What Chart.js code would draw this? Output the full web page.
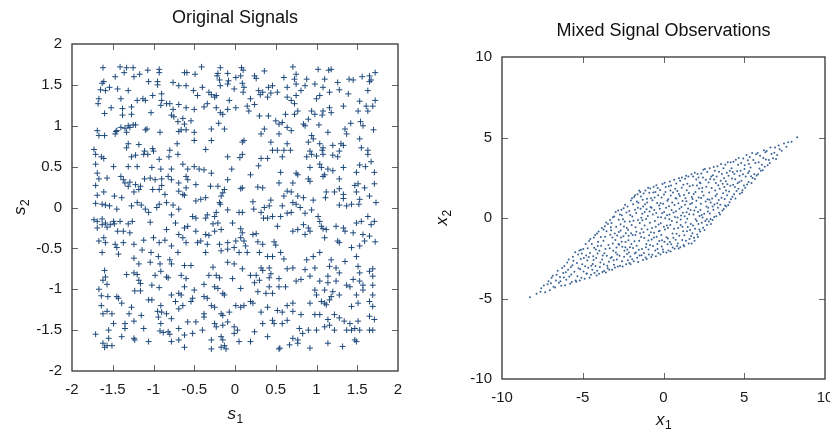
<!DOCTYPE html>
<html>
<head>
<meta charset="utf-8">
<script src="https://cdn.jsdelivr.net/npm/chart.js@4.4.0/dist/chart.umd.min.js"></script>
<style>
  body { margin: 0; background: #fff; width: 830px; height: 429px; overflow: hidden; }
  .pane { position: absolute; top: 0; width: 415px; height: 429px; }
</style>
</head>
<body>
<div class="pane" style="left:0"><canvas id="origChart" width="415" height="429"></canvas></div>
<div class="pane" style="left:415px"><canvas id="mixChart" width="415" height="429"></canvas></div>
<script>
// ---- data ----
var origTitle = 'Original Signals';
var mixTitle = 'Mixed Signal Observations';
var sTicks = [-2, -1.5, -1, -0.5, 0, 0.5, 1, 1.5, 2];
var xTicks = [-10, -5, 0, 5, 10];

// original signals (s1, s2)
var origPts = [
  [-1.62,1.71],[-1.41,1.72],[-1.33,1.71],[-1.25,1.71],[-1.36,1.65],[-1.07,1.68],[-0.93,1.69],[-0.93,1.65],[-1.47,1.60],[-1.24,1.60],
  [-1.17,1.63],[-1.61,1.54],[-1.63,1.52],[-1.44,1.45],[-1.54,1.47],[-1.65,1.44],[-1.59,1.43],[-0.95,1.50],[-1.06,1.54],[-0.95,1.54],
  [-0.76,1.53],[-0.69,1.49],[-1.67,1.33],[-1.68,1.27],[-1.40,1.33],[-1.31,1.43],[-1.20,1.31],[-1.13,1.33],[-1.10,1.31],[-1.01,1.37],
  [-0.90,1.39],[-0.90,1.31],[-0.91,1.25],[-0.84,1.27],[-0.80,1.27],[-0.76,1.20],[-0.78,1.13],[-0.69,1.26],[-1.52,1.22],[-1.38,1.21],
  [-1.27,1.23],[-1.60,1.15],[-1.38,1.13],[-1.27,1.14],[-1.03,1.16],[-0.75,1.11],[-0.70,1.05],[-0.69,0.93],[-1.69,0.94],[-1.67,0.88],
  [-1.60,0.88],[-1.47,0.90],[-1.45,0.94],[-1.40,0.98],[-1.35,0.97],[-1.31,1.00],[-1.29,0.98],[-1.25,1.01],[-1.22,1.01],[-1.33,0.92],
  [-1.46,0.93],[-1.10,0.95],[-1.08,0.96],[-0.92,0.92],[-1.31,0.78],[-1.18,0.77],[-1.11,0.69],[-1.01,0.72],[-1.00,0.69],[-0.80,0.70],
  [-0.71,0.78],[-1.73,0.71],[-1.33,0.73],
  [-0.62,1.65],[-0.59,1.65],[-0.49,1.63],[-0.41,1.72],[-0.18,1.71],[-0.21,1.64],[-0.22,1.61],[-0.09,1.64],[0.01,1.59],[0.08,1.71],
  [0.10,1.68],[0.07,1.61],[0.24,1.61],[0.26,1.58],[0.36,1.67],[-0.60,1.49],[-0.51,1.43],[-0.40,1.47],[-0.46,1.37],[-0.32,1.41],
  [-0.29,1.38],[-0.25,1.35],[-0.23,1.37],[-0.19,1.56],[-0.18,1.49],[-0.09,1.51],[-0.08,1.55],[-0.01,1.45],[0.09,1.52],[0.11,1.47],
  [0.10,1.41],[0.19,1.33],[0.29,1.43],[0.31,1.38],[0.34,1.41],[0.41,1.47],[0.46,1.49],[0.44,1.40],[0.40,1.35],[0.52,1.41],
  [0.60,1.59],[0.64,1.47],[0.64,1.35],[-0.60,1.22],[-0.50,1.20],[-0.38,1.23],[-0.34,1.27],[-0.23,1.22],[-0.18,1.16],[-0.15,1.14],
  [-0.09,1.20],[-0.07,1.31],[0.01,1.22],[0.15,1.24],[0.17,1.18],[0.24,1.26],[0.30,1.12],[0.41,1.12],[0.50,1.06],[0.54,1.02],
  [0.58,1.04],[0.62,1.14],[0.64,0.98],[-0.64,1.09],[-0.62,1.02],[-0.60,0.95],[-0.54,1.06],[-0.50,0.92],[-0.50,0.82],[-0.36,0.71],
  [-0.29,0.82],[-0.29,0.96],[-0.13,0.96],[-0.20,1.03],[0.09,0.80],[0.11,0.82],[0.32,0.90],[0.36,0.96],[0.44,0.80],[0.54,0.90],
  [0.46,0.70],[0.52,0.70],[0.60,0.70],[0.64,0.78],[-0.66,0.95],
  [0.71,1.72],[0.75,1.63],[0.73,1.57],[0.75,1.51],[0.88,1.57],[0.86,1.49],[0.81,1.43],[1.02,1.69],[1.15,1.68],[1.18,1.69],
  [1.10,1.57],[1.08,1.47],[0.98,1.51],[1.26,1.53],[1.28,1.44],[1.16,1.41],[1.04,1.37],[1.00,1.33],[1.40,1.57],[1.45,1.56],
  [1.56,1.60],[1.65,1.61],[1.67,1.56],[1.72,1.65],[1.65,1.54],[1.39,1.39],[1.63,1.43],[1.53,1.30],[1.61,1.24],[1.69,1.24],
  [1.72,1.31],[0.75,1.37],[0.69,1.31],[0.73,1.27],[0.77,1.18],[0.73,1.14],[0.94,1.18],[0.98,1.14],[1.08,1.18],[1.07,1.13],
  [1.16,1.22],[1.18,1.16],[1.33,1.24],[1.51,1.18],[1.63,1.18],[0.84,1.02],[0.86,1.00],[0.90,1.08],[1.03,1.01],[1.14,0.92],
  [1.35,0.96],[1.37,0.90],[1.42,1.03],[1.54,1.05],[1.57,1.00],[1.70,0.95],[0.69,0.94],[0.94,0.88],[0.90,0.80],[0.96,0.84],
  [1.04,0.78],[1.08,0.73],[1.20,0.76],[1.30,0.78],[1.33,0.76],[1.53,0.84],[1.55,0.73],[0.92,0.69],[1.07,0.70],[1.28,0.69],
  [1.63,0.70],[0.68,0.70],
  [-1.71,0.65],[-1.64,0.62],[-1.61,0.60],[-1.27,0.62],[-1.22,0.64],[-1.12,0.65],[-1.07,0.65],[-0.93,0.59],[-0.81,0.62],[-0.70,0.65],
  [-1.71,0.53],[-1.49,0.50],[-1.31,0.50],[-1.20,0.50],[-1.02,0.49],[-0.91,0.47],[-0.78,0.47],[-1.69,0.42],[-1.67,0.35],[-1.57,0.36],
  [-1.40,0.38],[-1.37,0.34],[-1.35,0.30],[-1.29,0.31],[-1.22,0.28],[-1.16,0.26],[-1.11,0.35],[-1.04,0.36],[-0.98,0.34],[-0.90,0.35],
  [-0.82,0.38],[-0.78,0.34],[-0.69,0.30],[-1.71,0.27],[-1.61,0.19],[-1.69,0.15],[-1.48,0.14],[-1.39,0.12],[-1.31,0.26],[-1.24,0.19],
  [-1.18,0.22],[-1.01,0.22],[-0.93,0.22],[-0.90,0.27],[-0.86,0.16],[-0.69,0.20],[-1.71,0.05],[-1.63,0.04],[-1.59,0.03],[-1.54,0.02],
  [-1.45,-0.02],[-1.27,0.02],[-1.20,0.06],[-1.15,0.03],[-1.10,-0.02],[-1.06,-0.06],[-0.93,0.04],[-0.96,0.00],[-0.84,0.06],[-0.76,0.03],
  [-0.78,-0.09],[-0.69,-0.02],[-1.73,-0.15],[-1.69,-0.17],[-1.63,-0.14],[-1.59,-0.19],[-1.53,-0.21],[-1.49,-0.17],[-1.41,-0.17],[-1.31,-0.20],
  [-1.26,-0.17],[-1.04,-0.18],[-1.69,-0.25],[-1.63,-0.21],[-1.57,-0.24],[-1.48,-0.20],[-1.44,-0.29],[-1.37,-0.29],[-1.29,-0.31],[-1.61,-0.37],
  [-1.67,-0.41],[-1.59,-0.43],[-1.47,-0.45],[-1.37,-0.43],[-1.24,-0.45],[-1.12,-0.40],[-1.00,-0.37],[-0.93,-0.43],[-0.86,-0.40],[-0.78,-0.47],
  [-0.84,-0.27],[-0.73,-0.19],[-0.69,-0.33],[-1.63,-0.55],[-1.45,-0.49],[-1.43,-0.57],[-1.14,-0.52],[-1.03,-0.55],[-1.24,-0.62],[-0.94,-0.60],
  [-0.80,-0.64],[-0.70,-0.55],
  [-0.09,0.62],[0.06,0.61],[0.09,0.65],[0.32,0.60],[0.40,0.60],[0.58,0.62],[-0.64,0.53],[-0.58,0.47],[-0.50,0.50],[-0.44,0.47],
  [-0.38,0.46],[-0.29,0.42],[-0.60,0.38],[-0.58,0.34],[-0.48,0.28],[-0.30,0.26],[-0.21,0.26],[-0.09,0.34],[-0.04,0.47],[0.19,0.40],
  [0.29,0.51],[0.56,0.43],[-0.60,0.24],[-0.64,0.16],[-0.62,0.15],[-0.48,0.08],[-0.42,0.10],[-0.36,0.12],[-0.19,0.06],[-0.17,0.14],
  [-0.15,0.18],[-0.13,0.22],[0.07,0.23],[0.09,0.24],[0.28,0.25],[0.34,0.24],[0.54,0.30],[0.64,0.20],[0.44,0.09],[0.42,0.02],
  [0.36,0.00],[0.22,0.07],[0.23,-0.02],[0.32,-0.06],[0.58,0.02],[0.60,0.14],[-0.18,0.04],[-0.09,-0.03],[0.05,-0.06],[0.09,-0.06],
  [-0.48,-0.13],[-0.52,-0.11],[-0.34,-0.09],[-0.36,-0.13],[-0.25,-0.11],[-0.23,-0.06],[-0.27,-0.20],[-0.21,-0.19],[-0.03,-0.19],[-0.62,-0.25],
  [-0.58,-0.23],[-0.48,-0.29],[-0.36,-0.33],[-0.32,-0.34],[-0.25,-0.29],[-0.17,-0.27],[0.07,-0.26],[0.09,-0.31],[0.22,-0.33],[0.26,-0.32],
  [0.35,-0.13],[0.40,-0.13],[0.46,-0.11],[0.52,-0.23],[0.56,-0.11],[0.64,-0.07],[-0.64,-0.37],[-0.60,-0.43],[-0.46,-0.43],[-0.42,-0.41],
  [-0.34,-0.45],[-0.19,-0.45],[-0.09,-0.43],[0.01,-0.41],[0.07,-0.37],[0.11,-0.41],[0.13,-0.47],[0.28,-0.42],[0.34,-0.45],[0.48,-0.42],
  [0.50,-0.46],[0.56,-0.55],[0.60,-0.63],[-0.36,-0.55],[-0.17,-0.53],[-0.09,-0.51],[-0.01,-0.49],[0.05,-0.55],[0.15,-0.55],[0.30,-0.55],
  [0.40,-0.60],[0.46,-0.60],
  [0.88,0.62],[0.94,0.65],[1.00,0.63],[1.08,0.65],[1.20,0.64],[1.26,0.62],[1.63,0.65],[1.67,0.56],[0.92,0.49],[1.04,0.53],
  [1.06,0.49],[1.14,0.47],[1.20,0.45],[1.33,0.49],[1.53,0.52],[1.60,0.50],[1.71,0.43],[0.75,0.42],[0.77,0.40],[0.90,0.35],
  [0.92,0.32],[1.08,0.38],[1.10,0.40],[1.28,0.35],[1.49,0.43],[1.51,0.29],[1.47,0.27],[1.59,0.24],[1.71,0.29],[0.71,0.30],
  [0.69,0.19],[0.77,0.14],[0.84,0.12],[0.96,0.09],[1.12,0.19],[1.11,0.12],[1.22,0.19],[1.28,0.23],[1.33,0.16],[1.33,0.11],
  [1.37,0.02],[1.28,0.03],[1.43,0.04],[1.49,0.19],[1.53,0.10],[1.52,0.04],[1.65,0.14],[1.73,0.06],[0.71,0.06],[0.75,0.04],
  [0.80,0.00],[0.86,-0.07],[0.94,-0.03],[0.69,-0.06],[1.02,-0.11],[1.04,-0.17],[1.06,-0.23],[1.08,-0.26],[1.12,-0.27],[1.10,-0.37],
  [1.24,-0.23],[1.33,-0.25],[1.35,-0.29],[1.45,-0.31],[1.49,-0.19],[1.55,-0.17],[1.63,-0.11],[1.67,-0.21],[1.71,-0.17],[0.84,-0.21],
  [0.90,-0.25],[0.77,-0.27],[0.71,-0.29],[0.92,-0.29],[0.86,-0.33],[1.26,-0.41],[1.28,-0.43],[1.57,-0.33],[1.59,-0.41],[1.65,-0.35],
  [1.72,-0.42],[1.43,-0.49],[1.53,-0.47],[1.04,-0.55],[0.96,-0.60],[0.88,-0.64],[1.18,-0.64],[1.35,-0.66],[1.49,-0.60],
  [-1.18,-0.69],[-1.04,-0.67],[-0.92,-0.69],[-0.78,-0.69],[-1.60,-0.77],[-1.59,-0.85],[-1.62,-0.89],[-1.57,-0.94],[-1.33,-0.82],[-1.24,-0.80],
  [-1.20,-0.82],[-1.18,-0.89],[-1.16,-0.93],[-0.98,-0.83],[-0.91,-0.78],[-0.84,-0.85],[-0.82,-0.86],[-1.02,-0.95],[-0.93,-0.98],[-1.67,-1.00],
  [-1.64,-1.08],[-1.56,-1.09],[-1.45,-1.09],[-1.43,-1.11],[-1.39,-1.17],[-1.64,-1.20],[-1.62,-1.30],[-1.57,-1.27],[-1.51,-1.30],[-1.27,-1.22],
  [-1.30,-1.30],[-1.15,-1.32],[-1.23,-1.02],[-1.16,-1.02],[-1.06,-1.13],[-1.02,-1.13],[-0.91,-1.20],[-0.95,-1.27],[-0.90,-1.28],[-0.94,-1.34],
  [-0.69,-1.05],[-0.78,-1.07],[-0.73,-1.15],[-0.69,-1.24],[-0.78,-1.36],[-0.84,-1.30],[-1.49,-1.42],[-1.35,-1.42],[-1.24,-1.39],[-1.35,-1.48],
  [-1.55,-1.50],[-1.12,-1.48],[-0.92,-1.51],[-0.88,-1.53],[-0.82,-1.52],[-0.80,-1.55],[-0.91,-1.42],[-0.69,-1.48],[-1.71,-1.55],[-1.55,-1.60],
  [-1.39,-1.58],[-1.24,-1.60],[-1.23,-1.62],[-1.06,-1.64],[-0.78,-1.64],[-0.69,-1.62],[-1.62,-1.66],[-1.60,-1.71],[-1.57,-1.69],[-1.51,-1.69],
  [-0.62,-0.71],[-0.54,-0.71],[-0.27,-0.73],[-0.09,-0.67],[-0.01,-0.69],[0.09,-0.75],[0.32,-0.74],[0.34,-0.77],[0.42,-0.74],[0.44,-0.81],
  [0.54,-0.87],[0.64,-0.75],[-0.66,-0.83],[-0.60,-0.87],[-0.62,-0.97],[-0.50,-1.01],[-0.38,-0.94],[-0.32,-0.83],[-0.23,-0.83],[-0.19,-0.86],
  [-0.25,-0.97],[-0.21,-0.99],[-0.15,-1.05],[-0.13,-1.07],[-0.03,-0.87],[0.07,-0.99],[0.19,-0.83],[0.26,-0.83],[0.30,-0.89],[0.24,-0.92],
  [0.42,-0.86],[0.42,-0.97],[0.38,-1.05],[0.46,-1.05],[0.54,-0.97],[0.62,-0.97],[0.28,-1.03],[-0.66,-1.07],[-0.64,-1.20],[-0.54,-1.15],
  [-0.52,-1.11],[-0.38,-1.09],[-0.34,-1.11],[-0.29,-1.20],[-0.25,-1.22],[-0.17,-1.30],[-0.15,-1.32],[-0.07,-1.28],[0.01,-1.20],[0.07,-1.22],
  [0.11,-1.20],[0.19,-1.15],[0.22,-1.17],[0.32,-1.28],[0.40,-1.22],[0.52,-1.26],[0.58,-1.28],[0.64,-1.20],[-0.38,-1.30],[-0.38,-1.34],
  [-0.58,-1.40],[-0.48,-1.40],[-0.25,-1.42],[-0.23,-1.46],[-0.15,-1.44],[-0.09,-1.40],[-0.01,-1.46],[0.03,-1.50],[-0.01,-1.54],[0.24,-1.52],
  [0.34,-1.42],[0.46,-1.38],[0.48,-1.42],[0.58,-1.42],[0.64,-1.38],[-0.62,-1.56],[-0.52,-1.54],[-0.40,-1.50],[-0.29,-1.62],[-0.17,-1.58],
  [-0.15,-1.62],[-0.13,-1.69],[-0.29,-1.73],[-0.17,-1.71],[-0.11,-1.73],[0.05,-1.64],[0.19,-1.64],[0.40,-1.58],[-0.62,-1.71],[0.54,-1.73],
  [0.71,-0.74],[0.86,-0.76],[0.98,-0.74],[1.16,-0.72],[1.24,-0.74],[1.28,-0.80],[1.14,-0.84],[1.51,-0.72],[1.53,-0.80],[1.69,-0.75],
  [1.65,-0.78],[1.69,-0.84],[0.75,-0.90],[0.81,-0.88],[0.92,-0.84],[1.04,-0.90],[1.14,-0.92],[1.24,-0.90],[1.37,-0.95],[1.45,-0.88],
  [1.53,-0.90],[1.57,-0.95],[1.69,-0.95],[0.98,-1.01],[1.10,-1.01],[1.00,-1.07],[1.28,-1.07],[1.41,-0.97],[1.49,-1.07],[1.57,-1.01],
  [1.69,-1.07],[0.92,-1.17],[0.71,-1.17],[1.06,-1.15],[1.10,-1.17],[1.12,-1.19],[1.16,-1.13],[1.20,-1.03],[1.18,-1.09],[1.65,-1.15],
  [1.69,-1.21],[1.43,-1.21],[1.51,-1.17],[0.71,-1.27],[0.81,-1.31],[0.98,-1.31],[1.04,-1.31],[1.14,-1.37],[1.22,-1.31],[1.28,-1.35],
  [1.34,-1.39],[1.41,-1.42],[1.51,-1.39],[1.65,-1.33],[1.71,-1.37],[0.79,-1.48],[0.83,-1.54],[0.77,-1.62],[0.90,-1.50],[1.00,-1.50],
  [1.10,-1.46],[1.16,-1.44],[1.22,-1.50],[1.37,-1.50],[1.43,-1.50],[1.47,-1.48],[1.53,-1.50],[1.65,-1.50],[1.69,-1.50],[0.77,-1.66],
  [0.71,-1.60],[1.14,-1.66],[1.32,-1.70],[1.47,-1.62],[1.49,-1.64],[0.92,-1.72],[0.55,-1.72],[0.67,-1.68]
];

// mixed observations (x1, x2)
var mixPts = [
  [-8.27,-4.93],[-7.86,-4.71],
  [-7.62,-4.58],[-7.41,-4.19],[-7.33,-4.61],[-7.57,-4.37],
  [-7.18,-4.12],[-7.04,-4.49],[-6.93,-3.71],[-7.12,-3.93],[-6.81,-4.27],[-6.97,-4.05],[-6.86,-3.58],
  [-6.71,-4.31],[-6.62,-3.52],[-6.48,-4.02],[-6.55,-3.27],[-6.33,-4.21],[-6.41,-3.66],[-6.27,-3.11],[-6.66,-3.88],[-6.38,-3.93],
  [-6.21,-3.42],[-6.09,-4.18],[-5.96,-2.77],[-6.14,-2.98],[-5.83,-3.64],[-6.02,-3.83],[-5.91,-3.21],[-5.78,-4.09],[-6.17,-3.69],[-5.87,-2.58],[-6.05,-3.37],
  [-5.73,-3.05],[-5.61,-2.41],[-5.44,-3.88],[-5.68,-3.97],[-5.29,-2.26],[-5.52,-3.34],[-5.36,-2.79],[-5.58,-2.66],[-5.47,-2.12],[-5.33,-3.62],
  [-5.71,-3.51],[-5.26,-3.12],[-5.64,-2.93],[-5.40,-3.96],
  [-5.21,-2.02],[-5.08,-3.71],[-4.93,-2.48],[-5.16,-3.19],[-4.82,-1.61],[-5.03,-2.87],[-4.77,-3.46],[-5.12,-2.55],[-4.88,-3.78],[-4.97,-1.92],
  [-5.18,-3.88],[-4.85,-2.99],[-5.06,-2.21],[-4.79,-2.33],[-4.95,-3.33],[-5.11,-1.97],
  [-4.72,-2.64],[-4.61,-1.43],[-4.49,-3.52],[-4.66,-3.09],[-4.31,-1.21],[-4.55,-2.17],[-4.38,-2.86],[-4.69,-1.88],[-4.27,-3.41],[-4.44,-1.62],
  [-4.58,-3.71],[-4.35,-2.38],[-4.63,-2.42],[-4.47,-2.97],[-4.29,-1.85],[-4.53,-1.31],[-4.41,-3.22],[-4.74,-3.44],[-4.33,-2.61],
  [-4.23,-1.05],[-4.11,-3.28],[-3.97,-2.04],[-4.17,-2.49],[-3.82,-0.62],[-4.05,-1.47],[-3.78,-3.36],[-4.14,-3.57],[-3.91,-2.77],[-4.02,-0.84],
  [-3.86,-1.73],[-4.19,-1.96],[-3.94,-3.05],[-4.08,-2.21],[-3.76,-2.33],[-4.21,-2.98],[-3.88,-1.18],[-3.99,-3.47],[-4.12,-0.97],[-3.80,-2.58],[-4.07,-1.74],
  [-3.72,-1.42],[-3.63,-0.51],[-3.48,-2.96],[-3.57,-3.38],[-3.31,-0.12],[-3.66,-2.19],[-3.41,-1.67],[-3.53,-0.83],[-3.27,-2.48],[-3.69,-2.87],
  [-3.36,-3.21],[-3.44,-0.37],[-3.59,-1.93],[-3.29,-1.04],[-3.71,-0.72],[-3.38,-2.71],[-3.51,-2.34],[-3.62,-1.16],[-3.33,-1.88],[-3.46,-3.12],
  [-3.55,-0.28],[-3.26,-0.58],[-3.68,-3.29],
  [-3.22,-0.31],[-3.09,-2.63],[-2.96,0.38],[-3.14,-1.59],[-2.83,-3.02],[-3.02,-0.97],[-2.77,-0.11],[-3.18,-3.21],[-2.91,-1.83],[-3.05,0.09],
  [-2.86,-2.27],[-3.11,-2.04],[-2.98,-1.36],[-3.24,-0.76],[-2.79,-1.62],[-3.07,-2.91],[-2.93,-0.54],[-3.16,-1.21],[-2.81,0.47],[-3.01,-3.07],
  [-2.89,-2.58],[-3.13,0.04],[-2.95,-2.14],[-2.76,-0.87],[-3.20,-2.42],[-2.87,-1.09],
  [-2.72,-2.35],[-2.61,0.52],[-2.48,-1.14],[-2.66,-0.39],[-2.31,-2.87],[-2.55,-1.78],[-2.38,0.83],[-2.69,-2.97],[-2.27,-0.62],[-2.44,-2.41],
  [-2.58,0.17],[-2.35,-1.49],[-2.63,-1.21],[-2.51,-0.08],[-2.29,0.34],[-2.74,-1.66],[-2.42,-2.04],[-2.57,-2.68],[-2.33,-0.95],[-2.47,0.61],
  [-2.65,-0.77],[-2.26,-2.23],[-2.53,-3.01],[-2.40,-0.21],[-2.70,0.22],[-2.36,-1.82],[-2.59,-1.47],[-2.45,-0.53],
  [-2.23,0.71],[-2.11,-2.79],[-1.97,-0.43],[-2.17,-1.38],[-1.82,1.31],[-2.06,0.18],[-1.78,-2.21],[-2.14,-2.14],[-1.91,-1.06],[-2.02,1.08],
  [-1.86,-0.17],[-2.19,-0.74],[-1.94,-2.56],[-2.08,-1.81],[-1.76,0.52],[-2.21,-2.63],[-1.88,0.86],[-1.99,-1.62],[-2.12,0.43],[-1.80,-1.44],
  [-2.04,-2.88],[-1.93,0.09],[-2.16,-1.10],[-1.84,-2.68],[-2.01,-0.95],[-1.77,1.42],[-2.09,-0.21],[-1.95,1.23],[-2.24,-1.95],[-1.89,-1.87],[-2.05,-2.39],
  [-1.73,-0.58],[-1.61,1.47],[-1.48,-2.33],[-1.66,-1.72],[-1.31,0.27],[-1.55,0.94],[-1.38,-1.18],[-1.69,0.31],[-1.27,-2.61],[-1.44,1.62],
  [-1.58,-0.12],[-1.35,-0.69],[-1.63,-2.47],[-1.51,-1.41],[-1.29,1.14],[-1.74,-1.05],[-1.42,0.58],[-1.57,-2.74],[-1.33,-1.93],[-1.47,-0.31],
  [-1.65,1.02],[-1.26,0.71],[-1.53,-1.97],[-1.40,1.33],[-1.71,-2.15],[-1.36,-2.31],[-1.59,0.63],[-1.45,-0.95],[-1.30,-0.14],[-1.68,-0.86],
  [-1.50,1.71],[-1.37,0.02],
  [-1.23,1.52],[-1.11,-2.46],[-0.97,0.13],[-1.17,-0.47],[-0.82,1.84],[-1.06,-1.62],[-0.78,-0.88],[-1.14,0.86],[-0.91,-2.27],[-1.02,1.19],
  [-0.86,0.41],[-1.19,-1.24],[-0.94,-1.39],[-1.08,-0.06],[-0.76,-2.43],[-1.21,-2.18],[-0.88,1.57],[-0.99,-0.72],[-1.12,1.71],[-0.80,0.68],
  [-1.04,-2.55],[-0.93,-1.95],[-1.16,0.37],[-0.84,-0.29],[-1.01,0.97],[-0.77,1.22],[-1.09,-1.81],[-0.95,1.88],[-1.24,-0.89],[-0.89,-1.07],
  [-1.05,0.55],[-0.83,-1.68],
  [-0.73,-1.33],[-0.61,1.94],[-0.48,-0.54],[-0.66,0.22],[-0.31,-2.18],[-0.55,1.27],[-0.38,-1.61],[-0.69,-2.29],[-0.27,0.77],[-0.44,2.04],
  [-0.58,-0.91],[-0.35,0.04],[-0.63,1.58],[-0.51,-2.02],[-0.29,-0.83],[-0.74,0.63],[-0.42,-1.17],[-0.57,0.49],[-0.33,1.41],[-0.47,-2.37],
  [-0.65,-1.74],[-0.26,-1.43],[-0.53,-0.19],[-0.40,0.93],[-0.71,-0.62],[-0.36,1.86],[-0.59,-1.21],[-0.45,0.31],[-0.30,-0.41],[-0.68,1.11],
  [-0.50,1.62],[-0.37,-1.92],
  [-0.23,0.58],[-0.11,-1.77],[0.03,1.46],[-0.17,-0.33],[0.18,-2.14],[-0.06,2.11],[0.22,0.17],[-0.14,-1.05],[0.09,-0.71],[-0.02,0.89],
  [0.14,1.93],[-0.19,-2.26],[0.06,-1.48],[-0.08,0.29],[0.24,1.07],[-0.21,1.74],[0.11,-0.02],[-0.04,-1.96],[0.19,-1.19],[-0.12,1.28],
  [0.02,-0.54],[0.16,0.64],[-0.24,-0.79],[0.07,2.19],[-0.09,-1.38],[0.21,-0.46],[-0.15,0.04],[0.12,1.61],[-0.01,-2.11],[0.25,-1.63],
  [-0.18,0.92],[0.04,0.38],
  [0.27,-1.27],[0.39,2.26],[0.52,-0.18],[0.34,0.73],[0.69,-1.91],[0.45,1.39],[0.62,0.34],[0.31,-2.02],[0.73,1.82],[0.56,-0.97],
  [0.42,-0.44],[0.66,2.38],[0.29,1.17],[0.48,-1.63],[0.71,0.06],[0.37,0.21],[0.59,1.58],[0.44,-2.08],[0.65,-0.66],[0.33,1.97],
  [0.54,0.97],[0.75,-1.35],[0.28,-0.62],[0.47,2.02],[0.61,-1.22],[0.40,-1.49],[0.68,0.81],[0.36,-0.08],[0.57,-1.84],[0.74,1.23],
  [0.50,0.49],[0.43,1.71],
  [0.77,0.42],[0.89,-1.58],[1.03,2.31],[0.83,-0.27],[1.18,1.06],[0.94,-1.89],[1.22,-0.82],[0.86,1.67],[1.09,0.16],[0.98,-1.11],
  [1.14,2.52],[0.81,-0.98],[1.06,-0.44],[0.92,0.91],[1.24,-1.68],[0.79,2.14],[1.01,1.36],[1.16,-1.37],[0.87,0.03],[1.11,0.68],
  [0.96,2.47],[1.20,0.33],[0.84,-1.74],[1.04,-1.81],[1.13,1.88],[0.91,-0.62],[1.23,2.06],[0.80,1.21],[1.07,-0.09],[0.99,0.57],
  [1.17,-0.55],[0.95,1.49],
  [1.27,1.43],[1.39,-1.41],[1.52,0.59],[1.34,2.44],[1.69,-0.37],[1.45,-0.82],[1.62,1.97],[1.31,0.11],[1.73,2.71],[1.56,-1.58],
  [1.42,1.04],[1.66,0.87],[1.29,-1.07],[1.48,2.12],[1.71,-1.12],[1.37,-0.28],[1.59,0.24],[1.44,1.73],[1.65,-0.74],[1.33,0.82],
  [1.54,2.58],[1.75,1.31],[1.28,-1.76],[1.47,-0.05],[1.61,-1.31],[1.40,2.63],[1.68,0.49],[1.36,1.22],[1.57,1.55],[1.74,-1.59],
  [1.50,-0.56],[1.43,0.35],
  [1.77,0.93],[1.89,-1.22],[2.03,2.39],[1.83,-0.46],[2.18,1.28],[1.94,2.81],[2.22,-0.71],[1.86,0.21],[2.09,-1.03],[1.98,1.62],
  [2.14,0.38],[1.81,2.04],[2.06,-0.19],[1.92,-1.41],[2.24,2.21],[1.79,-0.94],[2.01,0.67],[2.16,-0.38],[1.87,1.49],[2.11,2.73],
  [1.96,-0.66],[2.20,1.84],[1.84,2.58],[2.04,1.07],[2.13,-1.18],[1.91,0.47],[2.23,0.12],[1.80,1.18],[2.07,2.02],[1.99,-0.08],[2.17,2.51],
  [2.27,-0.84],[2.39,1.63],[2.52,0.27],[2.34,2.77],[2.69,-0.43],[2.45,-0.61],[2.62,2.38],[2.31,0.88],[2.73,1.17],[2.56,3.05],
  [2.42,0.03],[2.66,0.71],[2.29,2.16],[2.48,1.39],[2.71,2.86],[2.37,-0.29],[2.59,-0.18],[2.44,2.51],[2.65,1.94],[2.33,1.24],
  [2.54,-0.74],[2.75,0.41],[2.28,0.49],[2.47,2.99],[2.61,1.02],[2.40,1.87],[2.68,-0.07],[2.36,0.19],
  [2.77,0.64],[2.89,2.43],[3.03,-0.12],[2.83,1.58],[3.18,2.94],[2.94,-0.37],[3.22,1.36],[2.86,3.09],[3.09,0.52],[2.98,1.87],
  [3.14,0.06],[2.81,-0.21],[3.06,2.66],[2.92,0.97],[3.24,2.18],[2.79,2.21],[3.01,1.21],[3.16,0.84],[2.87,0.28],[3.11,3.16],
  [2.96,2.58],[3.20,1.71],[2.84,1.13],[3.04,0.71],[3.13,2.39],[2.91,-0.06],
  [3.27,0.11],[3.39,2.04],[3.52,0.83],[3.34,3.21],[3.69,1.54],[3.45,0.32],[3.62,2.73],[3.31,1.47],[3.73,0.56],[3.56,3.36],
  [3.42,1.12],[3.66,2.12],[3.29,2.57],[3.48,1.81],[3.71,3.09],[3.37,0.64],[3.59,1.26],[3.44,2.88],[3.65,0.47],[3.33,0.92],
  [3.54,2.31],[3.75,2.47],[3.50,0.22],
  [3.77,1.93],[3.89,0.71],[4.03,2.62],[3.83,3.31],[4.18,1.17],[3.94,1.42],[4.22,3.09],[3.86,2.28],[4.09,0.98],[3.98,3.46],
  [4.14,2.01],[3.81,0.77],[4.06,1.64],[3.92,2.81],[4.24,2.46],[3.79,1.18],[4.01,0.81],[4.16,3.47],[3.87,1.71],[4.11,2.93],[3.96,2.09],
  [4.27,1.32],[4.39,2.73],[4.52,1.68],[4.34,3.49],[4.69,2.24],[4.45,1.21],[4.62,3.31],[4.31,2.07],[4.73,1.51],[4.56,2.91],
  [4.42,1.93],[4.66,3.72],[4.29,2.86],[4.48,3.62],[4.71,2.63],[4.37,1.48],[4.59,2.16],[4.44,2.41],[4.64,1.82],
  [4.77,2.94],[4.89,1.72],[5.03,3.27],[4.83,2.31],[5.18,2.08],[4.94,3.69],[5.22,3.58],[4.86,1.59],[5.09,2.57],[4.98,2.02],
  [5.14,3.91],[4.81,3.41],[5.06,1.88],[4.92,2.71],[5.24,2.79],[5.01,3.04],
  [5.27,2.23],[5.39,3.14],[5.52,2.48],[5.34,3.79],[5.69,3.42],[5.45,2.18],[5.62,2.71],[5.31,2.91],[5.73,3.96],[5.56,3.61],
  [5.42,2.59],[5.66,2.42],[5.29,3.36],[5.49,4.03],
  [5.77,2.64],[5.89,3.47],[6.03,2.93],[5.83,4.04],[6.18,3.72],[5.94,3.08],[6.22,4.21],[5.86,2.72],[6.09,3.31],[5.98,3.86],[6.14,2.97],
  [6.27,3.19],[6.39,4.16],[6.52,3.61],[6.34,3.63],[6.69,3.97],[6.45,3.28],[6.62,4.38],[6.31,4.09],[6.58,3.42],
  [6.78,3.71],[6.91,4.38],[7.04,3.92],[6.86,4.06],[7.19,4.27],[6.97,3.66],[7.13,4.51],
  [7.32,4.17],[7.46,4.62],[7.61,4.43],[7.72,4.71],
  [7.93,4.74],[8.28,5.02]
];

var FONT = "'Liberation Sans', Arial, Helvetica, sans-serif";
var INK = '#1f4a7c';
Chart.defaults.font.family = FONT;
Chart.defaults.color = '#1a1a1a';

function toXY(pts) {
  return pts.map(function(p) { return { x: p[0], y: p[1] }; });
}

// italic letter with a small subscript, optionally rotated
function drawSub(ctx, base, sub, cx, cy, rot) {
  ctx.save();
  ctx.translate(cx, cy);
  ctx.rotate(rot);
  ctx.font = 'italic 17px ' + FONT;
  var w1 = ctx.measureText(base).width;
  ctx.font = '12px ' + FONT;
  var w2 = ctx.measureText(sub).width;
  var x0 = -(w1 + w2) / 2;
  ctx.textAlign = 'left';
  ctx.textBaseline = 'alphabetic';
  ctx.fillStyle = '#111';
  ctx.font = 'italic 17px ' + FONT;
  ctx.fillText(base, x0, 5);
  ctx.font = '12px ' + FONT;
  ctx.fillText(sub, x0 + w1 + 0.5, 9);
  ctx.restore();
}

// box frame, inward ticks on all sides, title and axis names
var framePlugin = {
  id: 'frame',
  afterDraw: function(chart, args, o) {
    var ctx = chart.ctx, a = chart.chartArea;
    var sx = chart.scales.x, sy = chart.scales.y;
    ctx.save();
    ctx.strokeStyle = '#666';
    ctx.lineWidth = 1;
    ctx.beginPath();
    sx.ticks.forEach(function(t) {
      var px = Math.round(sx.getPixelForValue(t.value)) + 0.5;
      if (px < a.left + 2 || px > a.right - 2) return;
      ctx.moveTo(px, a.bottom); ctx.lineTo(px, a.bottom - 6);
      ctx.moveTo(px, a.top); ctx.lineTo(px, a.top + 6);
    });
    sy.ticks.forEach(function(t) {
      var py = Math.round(sy.getPixelForValue(t.value)) + 0.5;
      if (py < a.top + 2 || py > a.bottom - 2) return;
      ctx.moveTo(a.left, py); ctx.lineTo(a.left + 6, py);
      ctx.moveTo(a.right, py); ctx.lineTo(a.right - 6, py);
    });
    ctx.stroke();
    ctx.strokeStyle = '#333';
    ctx.lineWidth = 1.3;
    ctx.strokeRect(a.left, a.top, a.right - a.left, a.bottom - a.top);

    ctx.fillStyle = '#111';
    ctx.font = '18px ' + FONT;
    ctx.textAlign = 'center';
    ctx.textBaseline = 'middle';
    ctx.fillText(o.title, (a.left + a.right) / 2, o.titleY);
    drawSub(ctx, o.xName[0], o.xName[1], (a.left + a.right) / 2, o.xNameY, 0);
    drawSub(ctx, o.yName[0], o.yName[1], o.yNameX, (a.top + a.bottom) / 2, -Math.PI / 2);
    ctx.restore();
  }
};

function axis(ticks, lo, hi, isX, size) {
  return {
    type: 'linear',
    min: lo,
    max: hi,
    afterBuildTicks: function(s) { s.ticks = ticks.map(function(v) { return { value: v }; }); },
    afterFit: function(s) {
      if (isX) s.height = size; else s.width = size;
      s.paddingLeft = 0; s.paddingRight = 0; s.paddingTop = 0; s.paddingBottom = 0;
    },
    grid: { display: false, drawTicks: false },
    border: { display: false },
    ticks: {
      padding: 10,
      autoSkip: false,
      maxRotation: 0,
      color: '#1a1a1a',
      font: { size: 15 },
      callback: function(v) { return String(v); }
    }
  };
}

function makeChart(id, ds, lim, ticks, pad, xSize, ySize, frame) {
  return new Chart(document.getElementById(id).getContext('2d'), {
    type: 'scatter',
    data: { datasets: [ds] },
    options: {
      responsive: false,
      animation: false,
      events: [],
      layout: { padding: pad },
      plugins: { legend: { display: false }, tooltip: { enabled: false }, frame: frame },
      scales: {
        x: axis(ticks, -lim, lim, true, xSize),
        y: axis(ticks, -lim, lim, false, ySize)
      }
    },
    plugins: [framePlugin]
  });
}

makeChart('origChart', {
  data: toXY(origPts),
  pointStyle: 'cross',
  pointRadius: 3,
  borderColor: INK,
  borderWidth: 1,
  showLine: false
}, 2, sTicks, { top: 44, right: 17, bottom: 0, left: 0 }, 58, 72, {
  title: origTitle, titleY: 18,
  xName: ['s', '1'], xNameY: 414,
  yName: ['s', '2'], yNameX: 20
});

makeChart('mixChart', {
  data: toXY(mixPts),
  pointStyle: 'circle',
  pointRadius: 1,
  backgroundColor: '#3a6396',
  borderWidth: 0,
  showLine: false
}, 10, xTicks, { top: 57, right: 5, bottom: 0, left: 0 }, 50, 87, {
  title: mixTitle, titleY: 31,
  xName: ['x', '1'], xNameY: 420,
  yName: ['x', '2'], yNameX: 27
});
</script>
</body>
</html>
